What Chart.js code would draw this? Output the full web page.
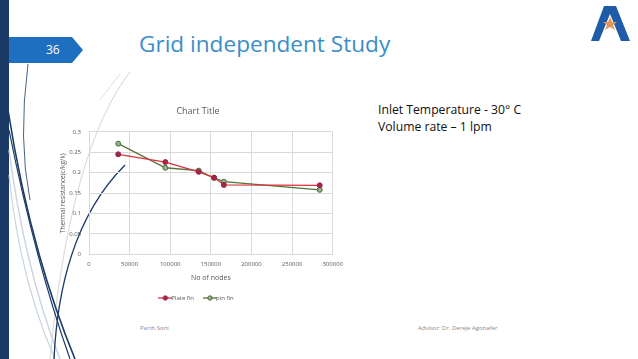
<!DOCTYPE html>
<html>
<head>
<meta charset="utf-8">
<script src="https://cdn.jsdelivr.net/npm/chart.js@4"></script>
<style>
  html, body { margin: 0; padding: 0; background: #fff; }
  body { width: 638px; height: 359px; position: relative; overflow: hidden; font-family: "Open Sans", "Noto Sans", sans-serif; }
  #deco { position: absolute; left: 0; top: 0; }
  .num { position: absolute; left: 46px; top: 41px; color: #fff; font-size: 12px; }
  .title { position: absolute; left: 139px; top: 28px; color: #3b8ec8; font-size: 22.6px; white-space: nowrap; }
  .note { position: absolute; left: 378px; top: 101px; font-size: 12.2px; line-height: 17px; color: #111; white-space: nowrap; }
  .foot { position: absolute; top: 324px; font-size: 6px; color: #8a8a8a; white-space: nowrap; }
  #wrap { position: absolute; left: 47px; top: 98px; width: 302px; height: 213px; }
</style>
</head>
<body>
<svg id="deco" width="638" height="359">
  <rect x="0" y="0" width="9" height="359" fill="#1b3a66"/>
  <!-- background swooshes -->
  <path d="M130 72 Q70 150 50 359" stroke="#dcdcdc" stroke-width="1.2" fill="none"/>
  <path d="M8 110 Q30 250 75 359" stroke="#1b3a66" stroke-width="1.6" fill="none"/>
  <path d="M9 130 Q35 260 70 359" stroke="#1b3a66" stroke-width="1.2" fill="none"/>
  <path d="M9 150 Q25 270 60 359" stroke="#c9d4e0" stroke-width="1.4" fill="none"/>
  <path d="M9 175 Q20 280 55 359" stroke="#c9d4e0" stroke-width="1.2" fill="none"/>
  <path d="M28 64 Q18 140 30 200" stroke="#1b3a66" stroke-width="0.8" fill="none"/>
  <path d="M125 165 Q60 230 54 359" stroke="#1b3a66" stroke-width="1.3" fill="none"/>
  <path d="M120 74 L100 100" stroke="#e2e2e2" stroke-width="1" fill="none"/>
  <!-- page number tab -->
  <polygon points="9,37 72,37 83,50 72,63 9,63" fill="#1e6fc0"/>
  <!-- logo -->
  <polygon points="604,6 616,6 630,41 621,41 610,14 599,41 591,41" fill="#1e5ca8"/>
  <polygon points="610,17 612,22 617,22 613,25 615,30 610,27 605,30 607,25 603,22 608,22" fill="#e2955a"/>
</svg>
<div class="num">36</div>
<div class="title">Grid independent Study</div>
<div class="note">Inlet Temperature - 30° C<br>Volume rate – 1 lpm</div>
<div class="foot" style="left:140px;">Parth Soni</div>
<div class="foot" style="left:418px;">Advisor: Dr. Dereje Agonafer</div>
<div id="wrap"><canvas id="chart"></canvas></div>
<script>
// ── Data ──────────────────────────────────────────────────────────────────────
const plateNodes = [36000, 94000, 135000, 154000, 166000, 284000];
const plateRes   = [0.245, 0.226, 0.202, 0.188, 0.170, 0.169];
const pinNodes   = [36000, 94000, 135000, 154000, 166000, 284000];
const pinRes     = [0.271, 0.212, 0.205, 0.187, 0.178, 0.158];
const seriesNames = ['Plate fin', 'pin fin'];

const GRID = '#d9d9d9';
const TXT  = '#595959';

const toPts = (xs, ys) => xs.map((x, i) => ({ x, y: ys[i] }));

// legend swatch: short line with a marker, like the Excel legend
function swatch(line, fill, edge) {
  const c = document.createElement('canvas');
  c.width = 14; c.height = 6;
  const g = c.getContext('2d');
  g.strokeStyle = line; g.lineWidth = 1.3;
  g.beginPath(); g.moveTo(0, 3); g.lineTo(14, 3); g.stroke();
  g.fillStyle = fill; g.strokeStyle = edge; g.lineWidth = 1;
  g.beginPath(); g.arc(7, 3, 2.2, 0, Math.PI * 2); g.fill(); g.stroke();
  return c;
}

new Chart(document.getElementById('chart'), {
  type: 'line',
  data: {
    datasets: [
      {
        label: seriesNames[0],
        data: toPts(plateNodes, plateRes),
        borderColor: '#d8323c',
        backgroundColor: '#9c2748',
        pointBorderColor: '#9c2748',
        pointBackgroundColor: '#9c2748',
        pointStyle: 'circle',
        borderWidth: 1.3,
        pointRadius: 2.5,
        pointBorderWidth: 1,
      },
      {
        label: seriesNames[1],
        data: toPts(pinNodes, pinRes),
        borderColor: '#56733a',
        backgroundColor: '#8fb38a',
        pointBorderColor: '#4d6e3c',
        pointBackgroundColor: '#8fb38a',
        pointStyle: 'circle',
        borderWidth: 1.3,
        pointRadius: 2.5,
        pointBorderWidth: 1,
      },
    ],
  },
  options: {
    responsive: true, maintainAspectRatio: false,
    animation: false,
    layout: { padding: 0 },
    plugins: {
      title: {
        display: true, text: 'Chart Title', color: TXT,
        font: { size: 9, family: 'Open Sans', weight: 'normal' },
        padding: { top: 8, bottom: 15 },
      },
      legend: {
        position: 'bottom',
        labels: {
          color: TXT, font: { size: 6, family: 'Open Sans' },
          usePointStyle: true, boxWidth: 14, boxHeight: 6, padding: 13,
          generateLabels: chart => chart.data.datasets.map((d, i) => ({
            text: d.label, fontColor: TXT, datasetIndex: i, hidden: false,
            pointStyle: swatch(d.borderColor, d.pointBackgroundColor, d.pointBorderColor),
          })),
        },
      },
      tooltip: { enabled: false },
    },
    scales: {
      x: {
        type: 'linear', min: 0, max: 300000,
        ticks: { stepSize: 50000, color: TXT, font: { size: 6, family: 'Open Sans' }, padding: 6, maxRotation: 0,
                 callback: v => String(v) },
        grid: { color: GRID, drawTicks: false },
        border: { color: GRID },
        title: { display: true, text: 'No of nodes', color: TXT, font: { size: 7, family: 'Open Sans' }, padding: { top: 0, bottom: 0 } },
      },
      y: {
        min: 0, max: 0.3,
        ticks: { stepSize: 0.05, color: TXT, font: { size: 6, family: 'Open Sans' }, padding: 8,
                 callback: v => String(+v.toFixed(2)) },
        grid: { color: GRID, drawTicks: false },
        border: { color: GRID },
        title: { display: true, text: 'Thermal resistance(c/kg/k)', color: TXT, font: { size: 6.5, family: 'Open Sans' }, padding: { top: 12, bottom: 2 } },
        afterFit: s => { s.width = 42; },
      },
    },
  },
});
</script>
</body>
</html>
